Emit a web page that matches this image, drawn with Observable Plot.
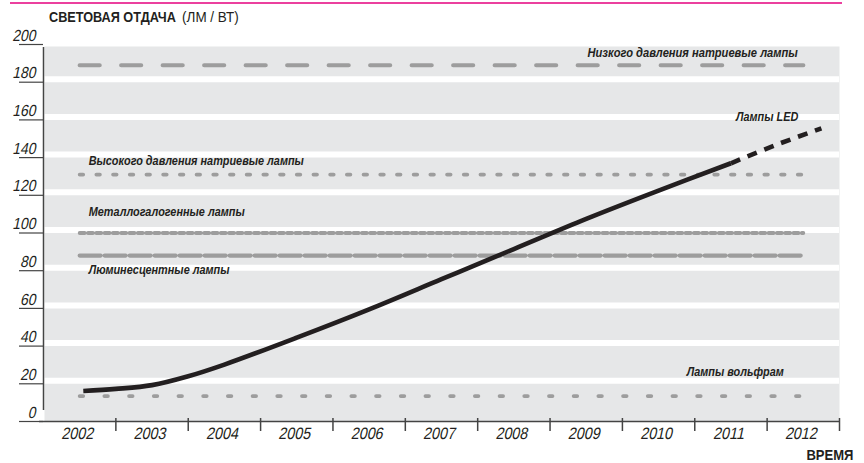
<!DOCTYPE html>
<html><head><meta charset="utf-8">
<script src="https://cdn.jsdelivr.net/npm/d3@7"></script>
<script src="https://cdn.jsdelivr.net/npm/@observablehq/plot@0.6"></script>
<style>body{margin:0;background:#fff}</style>
</head><body><div id="chart"></div>
<script>
// ---- data ----
const years = [2002, 2003, 2004, 2005, 2006, 2007, 2008, 2009, 2010, 2011, 2012];
const yTicks = [0, 20, 40, 60, 80, 100, 120, 140, 160, 180, 200];
const lampNames = ["Низкого давления натриевые лампы", "Высокого давления натриевые лампы", "Металлогалогенные лампы", "Люминесцентные лампы", "Лампы вольфрам"];
const lampValues = [189, 131, 100, 88, 13.5];
const ledLabel = "Лампы LED";
const ledYears = [2002.05, 2002.5, 2003, 2003.5, 2004, 2005, 2006, 2007, 2008, 2009, 2010, 2011];
const ledValues = [16.2, 17.3, 19.3, 24.0, 30.2, 44.5, 59.5, 75.5, 91.5, 107.5, 122.5, 137];
const ledForecastYears = [2011, 2011.6, 2012.25];
const ledForecastValues = [137, 146.4, 155.5];
const yTitle = "СВЕТОВАЯ ОТДАЧА";
const yUnit = "(ЛМ / ВТ)";
const xTitle = "ВРЕМЯ";

// ---- styles ----
const FONT = "'Liberation Sans','Arial',sans-serif";
const INK = "#231f20";
const GREY = "#9d9d9d";
const lampStyles = [
  {dash: "20,21.5", width: 4.2, labelAnchor: "end", dx: -5.5, dy: -12, size: 12.8},
  {dash: "3.5,13.2", width: 3.8, labelAnchor: "start", dx: 9, dy: -14, size: 12.5},
  {dash: "5,3.3", width: 3.8, labelAnchor: "start", dx: 9, dy: -21, size: 12.5},
  {dash: "21,4", width: 4.2, labelAnchor: "start", dx: 9, dy: 14, size: 12.5},
  {dash: "3.5,21.2", width: 3.8, labelAnchor: "end", dx: -19.5, dy: -24, size: 12.5}
];

const xDomain = [years[0] - 0.5, years[years.length - 1] + 0.5];
const boundaries = years.map(y => y + 0.5);
const stripes = yTicks.slice(1, -1);
const first = years[0], last = years[years.length - 1];

const lampMarks = lampValues.flatMap((v, i) => {
  const s = lampStyles[i];
  const pts = [{x: first, y: v}, {x: last, y: v}];
  return [
    Plot.line(pts, {x: "x", y: "y", stroke: GREY, strokeWidth: s.width, strokeDasharray: s.dash, strokeLinecap: "round"}),
    Plot.text([{x: s.labelAnchor === "end" ? last : first, y: v, t: lampNames[i]}], {
      x: "x", y: "y", text: "t", textAnchor: s.labelAnchor, dx: s.dx, dy: s.dy,
      fontStyle: "italic", fontWeight: "bold", fontSize: s.size, fill: INK
    })
  ];
});

const led = ledYears.map((x, i) => ({x, y: ledValues[i]}));
const ledF = ledForecastYears.map((x, i) => ({x, y: ledForecastValues[i]}));

const plot = Plot.plot({
  width: 864, height: 463,
  marginTop: 44, marginBottom: 42, marginLeft: 43, marginRight: 25,
  style: {fontFamily: FONT, background: "white", color: INK, overflow: "visible"},
  x: {domain: xDomain, label: null, axis: null},
  y: {domain: [yTicks[0], yTicks[yTicks.length - 1]], label: null, axis: null},
  marks: [
    Plot.frame({fill: "#e6e7e8", stroke: null, insetTop: 2, insetLeft: 1}),
    Plot.ruleY(stripes, {stroke: "white", strokeWidth: 6, dy: -3}),
    ...lampMarks,
    Plot.line(led, {x: "x", y: "y", curve: "catmull-rom", stroke: INK, strokeWidth: 4.6, strokeLinecap: "butt"}),
    Plot.line(ledF, {x: "x", y: "y", curve: "catmull-rom", stroke: INK, strokeWidth: 4.6, strokeDasharray: "10,8", strokeLinecap: "butt"}),
    Plot.text([{x: last, y: ledForecastValues[ledForecastValues.length - 1], t: ledLabel}], {
      x: "x", y: "y", text: "t", textAnchor: "end", dx: -5, dy: -11,
      fontStyle: "italic", fontWeight: "bold", fontSize: 12.5, fill: INK
    }),
    Plot.ruleX([xDomain[0]], {y1: yTicks[0], y2: yTicks[yTicks.length - 1], insetTop: -11, insetBottom: -3, stroke: "#444", strokeWidth: 1.5}),
    Plot.ruleY([yTicks[0]], {insetLeft: -4, stroke: "#444", strokeWidth: 1.5}),
    Plot.axisY({ticks: yTicks, tickSize: 24, fill: "none", stroke: "#444", strokeWidth: 1.2, label: null}),
    Plot.text(yTicks, {y: d => d, text: d => String(d), frameAnchor: "left", textAnchor: "end", dx: -7, dy: -9, fontSize: 16, fill: INK}),
    Plot.axisX({ticks: boundaries, tickSize: 13, dy: -3, fill: "none", stroke: "#444", strokeWidth: 1.5, label: null}),
    Plot.text(years, {x: d => d, text: d => String(d), frameAnchor: "bottom", lineAnchor: "top", dy: 6, fontSize: 16.5, fill: INK}),
    Plot.text([xTitle], {frameAnchor: "bottom-right", dx: 14, dy: 38, textAnchor: "end", lineAnchor: "bottom", fontWeight: "bold", fontSize: 15, fill: INK})
  ]
});

document.getElementById("chart").appendChild(plot);
const svg = d3.select(plot);

// condense all text horizontally (reference uses a condensed face)
function condense(node, k) {
  const L = node.getComputedTextLength();
  if (L > 0) {
    node.setAttribute("textLength", (L * k).toFixed(1));
    node.setAttribute("lengthAdjust", "spacingAndGlyphs");
  }
  return L * k;
}
svg.selectAll("text").each(function () {
  condense(this, 0.87);
  // oblique numerals: skew about the text's own anchor
  if (/^\d+$/.test(this.textContent.trim())) {
    const tr = this.getAttribute("transform");
    if (tr) {
      this.setAttribute("transform", tr + " skewX(-12)");
    } else {
      const x = +this.getAttribute("x") || 0, y = +this.getAttribute("y") || 0;
      this.removeAttribute("x"); this.removeAttribute("y");
      this.setAttribute("transform", `translate(${x},${y}) skewX(-12)`);
    }
  }
});

svg.append("line").attr("x1", 10).attr("x2", 842).attr("y1", 3).attr("y2", 3)
  .attr("stroke", "#e5007e").attr("stroke-width", 1.5);
// title: bold part + unit, condensed with a scale transform
const t1 = svg.append("text").attr("text-anchor", "start")
  .attr("font-family", FONT).attr("font-size", 14.5).attr("font-weight", "bold").attr("fill", INK).text(yTitle);
const k1 = 0.875, k2 = 0.93;
const w1 = t1.node().getComputedTextLength() * k1;
t1.attr("transform", `translate(49,22) scale(${k1},1)`);
const t2 = svg.append("text").attr("text-anchor", "start")
  .attr("font-family", FONT).attr("font-size", 14.5).attr("fill", INK).text(yUnit)
  .attr("transform", `translate(${49 + w1 + 6},22) scale(${k2},1)`);
</script>
</body></html>
